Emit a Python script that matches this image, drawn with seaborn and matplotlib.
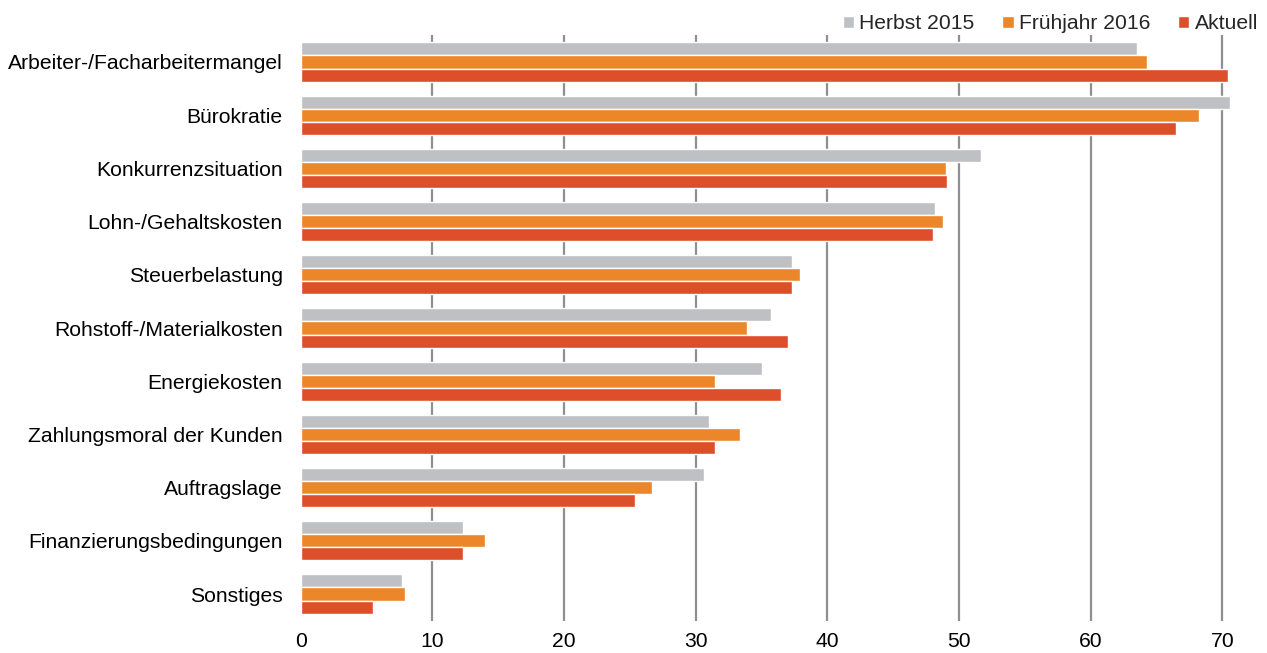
import matplotlib
matplotlib.use("Agg")
import matplotlib.pyplot as plt
import pandas as pd
import seaborn as sns

sns.set_style("white")
plt.rcParams["font.family"] = ["Liberation Sans", "DejaVu Sans"]

# Data
categories = [
    "Arbeiter-/Facharbeitermangel",
    "Bürokratie",
    "Konkurrenzsituation",
    "Lohn-/Gehaltskosten",
    "Steuerbelastung",
    "Rohstoff-/Materialkosten",
    "Energiekosten",
    "Zahlungsmoral der Kunden",
    "Auftragslage",
    "Finanzierungsbedingungen",
    "Sonstiges",
]
herbst_2015 = [63.5, 70.6, 51.7, 48.2, 37.3, 35.7, 35.0, 31.0, 30.6, 12.3, 7.7]
fruehjahr_2016 = [64.3, 68.2, 49.0, 48.8, 37.9, 33.9, 31.5, 33.4, 26.7, 14.0, 7.9]
aktuell = [70.4, 66.5, 49.1, 48.0, 37.3, 37.0, 36.5, 31.5, 25.4, 12.3, 5.5]

series_names = ["Herbst 2015", "Frühjahr 2016", "Aktuell"]
colors = ["#bfc0c3", "#eb8629", "#dd4f2b"]

df = pd.DataFrame({
    "Kategorie": categories * 3,
    "Wert": herbst_2015 + fruehjahr_2016 + aktuell,
    "Zeitpunkt": [s for s in series_names for _ in categories],
})

fig = plt.figure(figsize=(12.67, 6.53), dpi=100)
ax = fig.add_axes([0.2373, 0.0496, 0.7483, 0.8962])

sns.barplot(
    data=df, y="Kategorie", x="Wert", hue="Zeitpunkt",
    order=categories, hue_order=series_names, palette=colors,
    saturation=1, width=0.74, edgecolor="white", linewidth=1,
    ax=ax, legend=True, zorder=3,
)
for bar in ax.patches:
    bar.set_clip_on(False)

ax.set_xlim(0, 72)
ax.set_xticks(range(0, 71, 10))
ax.set_xlabel("")
ax.set_ylabel("")
ax.tick_params(axis="both", length=0, labelsize=15.2, colors="black")
ax.tick_params(axis="y", pad=13)
ax.tick_params(axis="x", pad=8)

# Vertical grid lines, none at zero
for x in range(10, 71, 10):
    ax.axvline(x, color="#8f8f91", linewidth=1.6, zorder=1)

sns.despine(ax=ax, left=True, bottom=True)

handles, labels = ax.get_legend_handles_labels()
ax.get_legend().remove()
fig.legend(
    handles, labels, loc="upper right", bbox_to_anchor=(1.008, 1.007),
    ncol=3, frameon=False, fontsize=15.2, handlelength=0.55,
    handleheight=0.5, handletextpad=0.25, columnspacing=1.3,
)

fig.savefig("out.png", dpi=100)
